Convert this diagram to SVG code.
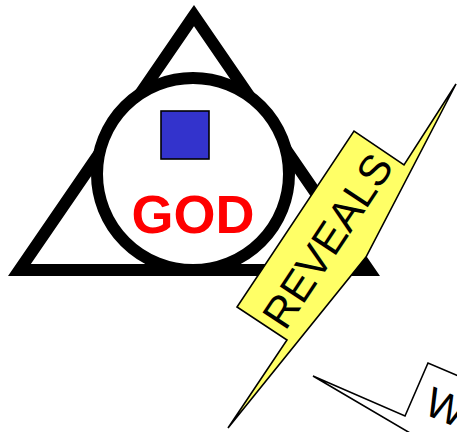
<svg xmlns="http://www.w3.org/2000/svg" width="457" height="432" viewBox="0 0 457 432">
<style>
.bolt{stroke:#000;stroke-width:1.6;stroke-linejoin:miter}
.lbl{font-family:"Liberation Sans",Arial,sans-serif;fill:#000}
</style>
<rect width="457" height="432" fill="#fff"/>
<g id="trinity">
<polygon points="194,15.5 19.4,270 368.6,270" fill="none" stroke="#000" stroke-width="12" stroke-linejoin="miter"/>
<circle cx="193" cy="174" r="96" fill="#fff" stroke="#000" stroke-width="12"/>
<rect x="161" y="111" width="48" height="48" fill="#3333CC" stroke="#000" stroke-width="1.6"/>
<text x="193" y="233" text-anchor="middle" font-family="'Liberation Sans',Arial,sans-serif" font-weight="bold" font-size="54" fill="#FF0000">GOD</text>
</g>
<g id="reveals">
<polygon class="bolt" fill="#FFFF66" points="456,84 404,165 354,131 237,307 287,340 228,428 366,257"/>
<text class="lbl" font-size="43" text-anchor="middle" transform="translate(340,249) rotate(-56.5)">REVEALS</text>
</g>
<g id="word">
<polygon class="bolt" fill="#fff" points="313,376 405,416 428,363 560,419 490,480"/>
<text class="lbl" font-size="42" transform="translate(422,413) rotate(23)">W</text>
</g>
</svg>
